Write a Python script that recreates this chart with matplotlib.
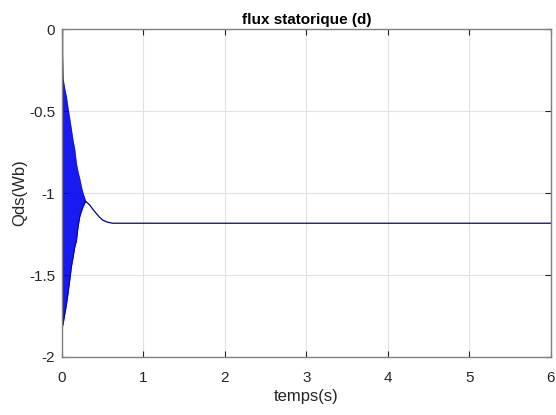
import numpy as np
import matplotlib
matplotlib.use('Agg')
import matplotlib.pyplot as plt

plt.rcParams['font.family'] = ['Liberation Sans', 'DejaVu Sans']

# envelope of the fast oscillation
t_env = [0.0, 0.013, 0.033, 0.054, 0.074, 0.095, 0.115, 0.136, 0.156, 0.177,
         0.197, 0.217, 0.238, 0.258, 0.279, 0.29]
upper = [0.0, -0.30, -0.36, -0.41, -0.48, -0.545, -0.61, -0.68, -0.73, -0.82,
         -0.87, -0.91, -0.96, -1.00, -1.03, -1.05]
lower = [-1.81, -1.80, -1.74, -1.68, -1.61, -1.53, -1.45, -1.39, -1.33, -1.29,
         -1.205, -1.145, -1.11, -1.083, -1.06, -1.05]

# slow settling part after the oscillation
t_tail = [0.29, 0.34, 0.38, 0.42, 0.46, 0.50, 0.55, 0.59, 0.62, 1.0, 2.0, 3.0, 4.0, 5.0, 6.0]
q_tail = [-1.05, -1.073, -1.10, -1.124, -1.147, -1.165, -1.176, -1.181, -1.184,
          -1.184, -1.184, -1.184, -1.184, -1.184, -1.184]

xticks = [0, 1, 2, 3, 4, 5, 6]
yticks = [0, -0.5, -1, -1.5, -2]

fig = plt.figure(figsize=(5.56, 4.15), dpi=100)
ax = fig.add_axes([0.1115, 0.1398, 0.8795, 0.790])

ax.fill_between(t_env, lower, upper, color='#0000f0', alpha=0.9, linewidth=0)
ax.plot([0, 0], [0, -1.81], color='#0000c0', lw=1.0)
ax.plot(t_env, upper, color='#0000e0', lw=0.6, alpha=0.5)
ax.plot(t_env, lower, color='#0000c0', lw=0.8)
ax.plot(t_tail, q_tail, color='#00008b', lw=0.9)

ax.set_xlim(0, 6)
ax.set_ylim(-2, 0)
ax.set_xticks(xticks)
ax.set_yticks(yticks)
ax.set_yticklabels(['0', '-0.5', '-1', '-1.5', '-2'])
ax.grid(True, color='#e2e2e2', lw=0.8)
ax.set_axisbelow(True)
ax.tick_params(direction='in', length=4, top=True, right=True, labelsize=11,
               color='#262626', labelcolor='#262626')
ax.tick_params(axis='x', pad=10)
ax.tick_params(axis='y', pad=5)
for s in ax.spines.values():
    s.set_color('#808080')
    s.set_linewidth(1.0)

ax.set_title('flux statorique (d)', fontsize=11, fontweight='bold', pad=4)
ax.set_xlabel('temps(s)', fontsize=12, color='#262626', labelpad=3)
ax.set_ylabel('Qds(Wb)', fontsize=12, color='#262626', labelpad=1)

fig.savefig('out.png', dpi=100)
